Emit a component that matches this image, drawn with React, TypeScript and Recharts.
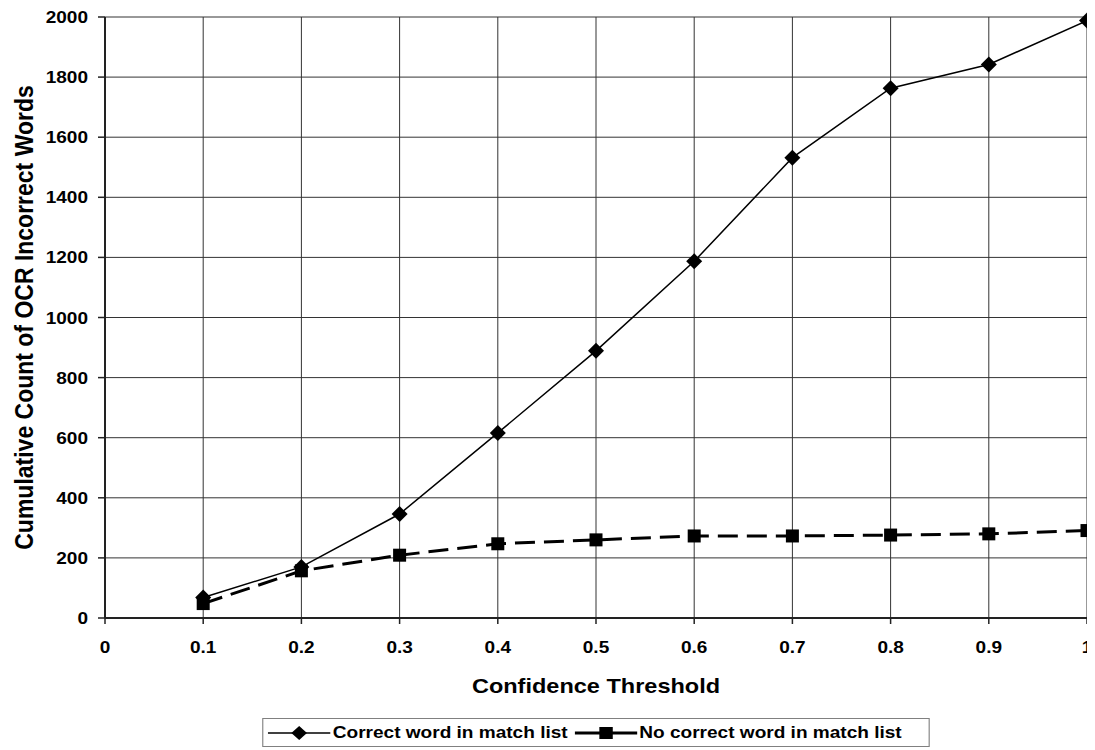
import { LineChart, Line, XAxis, YAxis, CartesianGrid, Legend } from "recharts";

const thresholds = [0.1, 0.2, 0.3, 0.4, 0.5, 0.6, 0.7, 0.8, 0.9, 1.0];
const correctInList = [68, 170, 346, 616, 889, 1187, 1532, 1763, 1842, 1988];
const noCorrectInList = [48, 157, 209, 247, 260, 273, 273, 276, 280, 291];
const xTicks = [0, 0.1, 0.2, 0.3, 0.4, 0.5, 0.6, 0.7, 0.8, 0.9, 1];
const yTicks = [0, 200, 400, 600, 800, 1000, 1200, 1400, 1600, 1800, 2000];

const seriesNames = ["Correct word in match list", "No correct word in match list"];

const data = thresholds.map((t, i) => ({
  t,
  correct: correctInList[i],
  noCorrect: noCorrectInList[i],
}));

const FONT = "'Liberation Sans', Arial, Helvetica, sans-serif";
// the original picture is a bit wider than tall, text looks stretched
const SX = 1.12;

function Diamond(props: any) {
  const { cx, cy } = props;
  if (cx == null || cy == null) return null;
  const r = 8;
  return (
    <polygon
      points={`${cx},${cy - r} ${cx + r},${cy} ${cx},${cy + r} ${cx - r},${cy}`}
      fill="#000"
    />
  );
}

function Square(props: any) {
  const { cx, cy } = props;
  if (cx == null || cy == null) return null;
  return <rect x={cx - 6.5} y={cy - 6.5} width={13} height={13} fill="#000" />;
}

function XTick(props: any) {
  const { x, y, payload } = props;
  const label = String(Math.round(payload.value * 10) / 10);
  return (
    <text
      transform={`translate(${x},${y + 27}) scale(${SX},1)`}
      textAnchor="middle"
      fontFamily={FONT}
      fontWeight="bold"
      fontSize={17}
      fill="#000"
    >
      {label}
    </text>
  );
}

function YTick(props: any) {
  const { x, y, payload } = props;
  return (
    <text
      transform={`translate(${x},${y + 6}) scale(${SX},1)`}
      textAnchor="end"
      fontFamily={FONT}
      fontWeight="bold"
      fontSize={17}
      fill="#000"
    >
      {payload.value}
    </text>
  );
}

function XTitle(props: any) {
  const vb = props.viewBox || {};
  const cx = vb.x + vb.width / 2;
  return (
    <text
      transform={`translate(${cx},${vb.y + 75}) scale(${SX},1)`}
      textAnchor="middle"
      fontFamily={FONT}
      fontWeight="bold"
      fontSize={21}
      fill="#000"
    >
      Confidence Threshold
    </text>
  );
}

function YTitle(props: any) {
  const vb = props.viewBox || {};
  const cy = vb.y + vb.height / 2;
  return (
    <text
      transform={`translate(25,${cy}) rotate(-90) scale(1,${SX})`}
      textAnchor="middle"
      fontFamily={FONT}
      fontWeight="bold"
      fontSize={23}
      fill="#000"
    >
      Cumulative Count of OCR Incorrect Words
    </text>
  );
}

function LegendBox() {
  const sample = (marker: "diamond" | "square", width: number) => (
    <svg width={56} height={20} style={{ display: "block" }}>
      <line x1={0} y1={10} x2={56} y2={10} stroke="#000" strokeWidth={width} />
      {marker === "diamond" ? (
        <polygon points="28,3 35,10 28,17 21,10" fill="#000" />
      ) : (
        <rect x={22} y={4} width={12} height={12} fill="#000" />
      )}
    </svg>
  );
  return (
    <div style={{ display: "flex", justifyContent: "center" }}>
      <div
        style={{
          display: "flex",
          alignItems: "center",
          boxSizing: "border-box",
          height: 29,
          width: 668 / SX,
          border: "1px solid #808080",
          padding: "0 4px",
          background: "#fff",
          transform: `scaleX(${SX})`,
          transformOrigin: "center",
          fontFamily: FONT,
          fontWeight: "bold",
          fontSize: 17,
          color: "#000",
          whiteSpace: "nowrap",
        }}
      >
        {sample("diamond", 1.5)}
        <span style={{ marginLeft: 2, marginRight: 6 }}>{seriesNames[0]}</span>
        {sample("square", 3)}
        <span style={{ marginLeft: 2 }}>{seriesNames[1]}</span>
      </div>
    </div>
  );
}

export default function App() {
  return (
    <div>
      {/* keep the page from getting a scrollbar that eats into the width */}
      <style>{"html, body { overflow: hidden; }"}</style>
      <LineChart
        width={1087}
        height={739}
        data={data}
        margin={{ top: 9, right: 8, left: 0, bottom: 0 }}
        style={{ overflow: "visible" }}
      >
        <CartesianGrid stroke="#333" strokeWidth={1} />
        <XAxis
          dataKey="t"
          type="number"
          domain={[0, 1]}
          ticks={xTicks}
          interval={0}
          height={100}
          tickSize={6}
          tickMargin={2}
          tick={<XTick />}
          axisLine={{ stroke: "#222", strokeWidth: 2 }}
          tickLine={{ stroke: "#222", strokeWidth: 1.5 }}
          label={<XTitle />}
        />
        <YAxis
          type="number"
          domain={[0, 2000]}
          ticks={yTicks}
          interval={0}
          width={97}
          tickSize={7}
          tickMargin={10}
          tick={<YTick />}
          axisLine={{ stroke: "#222", strokeWidth: 2 }}
          tickLine={{ stroke: "#222", strokeWidth: 1.5 }}
          label={<YTitle />}
        />
        <Legend
          verticalAlign="bottom"
          content={() => <LegendBox />}
          wrapperStyle={{ left: 97, width: 982 }}
        />
        <Line
          type="linear"
          dataKey="correct"
          name={seriesNames[0]}
          stroke="#000"
          strokeWidth={1.5}
          dot={<Diamond />}
          activeDot={false}
          isAnimationActive={false}
        />
        <Line
          type="linear"
          dataKey="noCorrect"
          name={seriesNames[1]}
          stroke="#000"
          strokeWidth={3}
          strokeDasharray="20 9"
          dot={<Square />}
          activeDot={false}
          isAnimationActive={false}
        />
      </LineChart>
    </div>
  );
}
